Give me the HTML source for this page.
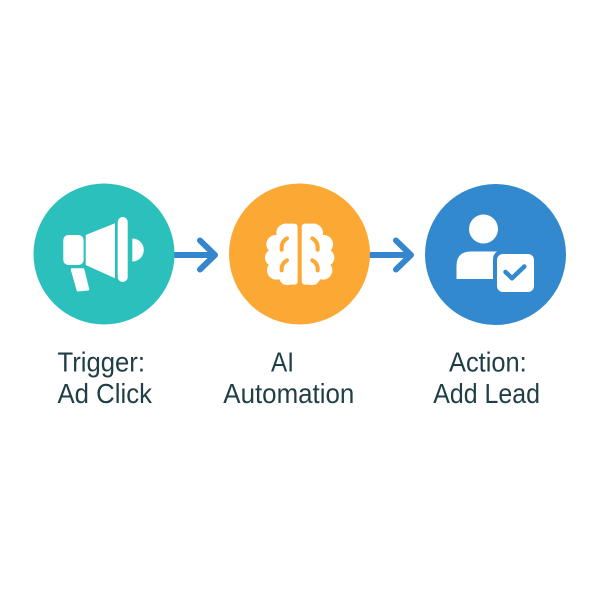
<!DOCTYPE html>
<html>
<head>
<meta charset="utf-8">
<style>
html,body{margin:0;padding:0;background:#ffffff;}
svg{display:block;}
text{font-family:"Liberation Sans",Arial,sans-serif;font-size:28px;fill:#1f3e46;}
</style>
</head>
<body>
<svg width="600" height="600" viewBox="0 0 600 600" xmlns="http://www.w3.org/2000/svg">
  <rect width="600" height="600" fill="#ffffff"/>

  <!-- arrows -->
  <g stroke="#3586cd" stroke-width="6" fill="none" stroke-linecap="round" stroke-linejoin="round">
    <line x1="172" y1="255" x2="213" y2="255"/>
    <polyline points="200,240.5 215,255 200,269.5"/>
    <line x1="368" y1="255" x2="409" y2="255"/>
    <polyline points="396,240.5 411,255 396,269.5"/>
  </g>

  <!-- circle 1: megaphone -->
  <circle cx="104" cy="254" r="70.5" fill="#2cc0bd"/>
  <g fill="#ffffff">
    <rect x="63.3" y="235" width="20.3" height="30" rx="5"/>
    <polygon points="85.7,235 115,223.3 115,278.3 85.7,265"/>
    <rect x="117.7" y="217" width="10" height="65" rx="5"/>
    <path d="M132.3,238.5 A11.5,11.5 0 0 1 132.3,261.5 Z"/>
    <polygon points="71.7,269.3 83.3,269.3 88.3,289.5 77.7,290.5" stroke="#ffffff" stroke-width="2" stroke-linejoin="round"/>
  </g>

  <!-- circle 2: brain -->
  <circle cx="299.5" cy="254" r="70.5" fill="#fba834"/>
  <defs>
    <clipPath id="lh"><rect x="0" y="0" width="128" height="240"/></clipPath>
    <g id="half">
      <g clip-path="url(#lh)" fill="#ffffff">
        <rect x="80" y="26" width="48" height="183" rx="10"/>
        <circle cx="92" cy="54" r="28"/>
        <circle cx="62" cy="88" r="28"/>
        <circle cx="56" cy="128" r="26"/>
        <circle cx="64" cy="166" r="28"/>
        <circle cx="98" cy="183" r="27"/>
        <rect x="60" y="70" width="68" height="110"/>
      </g>
      <g fill="none" stroke="#fba834" stroke-width="12" stroke-linecap="round">
        <path d="M96,70 Q78,80 80,104"/>
        <path d="M96,136 Q78,146 80,166"/>
      </g>
    </g>
  </defs>
  <g transform="translate(255,215) scale(0.33333)">
    <use href="#half"/>
    <use href="#half" transform="translate(268,0) scale(-1,1)"/>
  </g>

  <!-- circle 3: person + check -->
  <circle cx="495.5" cy="254.5" r="70.5" fill="#3389ce"/>
  <g>
    <circle cx="483.5" cy="229" r="14.5" fill="#ffffff"/>
    <path d="M456.5,279 L456.5,266 Q456.5,251.5 471,251.5 L496,251.5 Q510.5,251.5 510.5,266 L510.5,279 Z" fill="#ffffff"/>
    <rect x="493" y="250" width="45" height="46" rx="9" fill="#3389ce"/>
    <rect x="497" y="254" width="37" height="38" rx="6" fill="#ffffff"/>
    <polyline points="505.5,272 512,278.3 524.3,266.5" fill="none" stroke="#3389ce" stroke-width="4.5" stroke-linecap="round" stroke-linejoin="round"/>
  </g>

  <!-- labels -->
  <text x="57.5" y="371.5" textLength="87.5" lengthAdjust="spacingAndGlyphs">Trigger:</text>
  <text x="57.5" y="403" textLength="94.5" lengthAdjust="spacingAndGlyphs">Ad Click</text>
  <text x="271" y="371.5" textLength="23" lengthAdjust="spacingAndGlyphs">AI</text>
  <text x="223.3" y="403" textLength="131" lengthAdjust="spacingAndGlyphs">Automation</text>
  <text x="449" y="371.5" textLength="77.7" lengthAdjust="spacingAndGlyphs">Action:</text>
  <text x="433.3" y="403" textLength="106.7" lengthAdjust="spacingAndGlyphs">Add Lead</text>
</svg>
</body>
</html>
